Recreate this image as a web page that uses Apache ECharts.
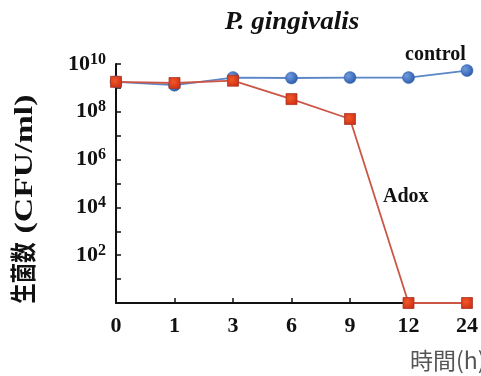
<!DOCTYPE html>
<html>
<head>
<meta charset="utf-8">
<script src="https://cdn.jsdelivr.net/npm/echarts@6/dist/echarts.min.js"></script>
<style>html,body{margin:0;padding:0;background:#fff;}#c{width:481px;height:376px;}</style>
</head>
<body>
<div id="c"></div>
<script>
var categories = ['0', '1', '3', '6', '9', '12', '24'];
var controlValues = [1.8e9, 1.3e9, 2.7e9, 2.6e9, 2.7e9, 2.7e9, 5.3e9];
var adoxValues = [1.8e9, 1.6e9, 2.0e9, 3.4e8, 5.0e7, 1, 1];
var chartTitle = 'P. gingivalis';
var yName = '生菌数';
var yUnit = '(CFU/ml)';
var xName = '時間(h)';

var chart = echarts.init(document.getElementById('c'));
var serif = '"Liberation Serif", "Times New Roman", serif';
chart.setOption({
  animation: false,
  backgroundColor: '#fff',
  grid: { left: 116, right: 12, top: 64, bottom: 73, containLabel: false },
  xAxis: {
    type: 'category',
    data: categories,
    boundaryGap: false,
    axisLine: { lineStyle: { color: '#111', width: 2 } },
    axisTick: { inside: true, length: 5, alignWithLabel: true, lineStyle: { color: '#111', width: 1.5 } },
    axisLabel: { margin: 12, fontFamily: serif, fontWeight: 'bold', fontSize: 22, color: '#111' },
    splitLine: { show: false }
  },
  yAxis: {
    type: 'log',
    logBase: 10,
    min: 1,
    max: 1e10,
    interval: 1,
    axisLine: { show: true, lineStyle: { color: '#111', width: 2 } },
    axisTick: { show: true, inside: true, length: 5, lineStyle: { color: '#111', width: 1.5 } },
    splitLine: { show: false },
    axisLabel: {
      margin: 10,
      formatter: function (v) {
        var e = Math.round(Math.log(v) / Math.LN10);
        if (e === 0 || e % 2 !== 0) return '';
        return '{b|10}{s|' + e + '}';
      },
      rich: {
        b: { fontFamily: serif, fontWeight: 'bold', fontSize: 22, color: '#111' },
        s: { fontFamily: serif, fontWeight: 'bold', fontSize: 16, color: '#111', verticalAlign: 'top', padding: [0, 0, 9, 0] }
      }
    }
  },
  series: [
    {
      name: 'control', type: 'line', data: controlValues,
      symbol: 'circle', symbolSize: 12,
      lineStyle: { color: '#5a86c8', width: 1.8 },
      itemStyle: {
        color: new echarts.graphic.RadialGradient(0.35, 0.35, 0.7, [
          { offset: 0, color: '#6f9be0' }, { offset: 1, color: '#2c5aa8' }
        ]),
        borderColor: '#2f5ca8', borderWidth: 0.5
      },
      z: 2
    },
    {
      name: 'Adox', type: 'line', data: adoxValues,
      symbol: 'rect', symbolSize: 11,
      lineStyle: { color: '#cc5646', width: 1.8 },
      itemStyle: {
        color: new echarts.graphic.RadialGradient(0.4, 0.4, 0.7, [
          { offset: 0, color: '#f05a2a' }, { offset: 1, color: '#cc2a12' }
        ]),
        borderColor: '#a83a2a', borderWidth: 0.8
      },
      z: 3
    }
  ],
  graphic: [
    { type: 'text', x: 292, y: 23, scaleX: 1.08, style: { text: chartTitle, font: 'italic bold 25px ' + serif, fill: '#111', align: 'center', verticalAlign: 'middle' } },
    { type: 'text', x: 23, y: 273, rotation: Math.PI / 2, scaleX: 0.78,
      style: { text: yName, font: 'bold 26px "Noto Sans CJK JP", sans-serif', fill: '#111', align: 'center', verticalAlign: 'middle' } },
    { type: 'text', x: 25, y: 164, rotation: Math.PI / 2, scaleX: 1.3,
      style: { text: yUnit, font: 'bold 26px ' + serif, fill: '#111', align: 'center', verticalAlign: 'middle' } },
    { type: 'text', left: 405, top: 45, style: { text: 'control', font: 'bold 20px ' + serif, fill: '#111' } },
    { type: 'text', left: 383, top: 187, style: { text: 'Adox', font: 'bold 20px ' + serif, fill: '#111' } },
    { type: 'text', x: 410, y: 360, style: { text: xName, font: '23px "Noto Sans CJK JP", sans-serif', fill: '#555', align: 'left', verticalAlign: 'middle' } }
  ]
});
</script>
</body>
</html>
